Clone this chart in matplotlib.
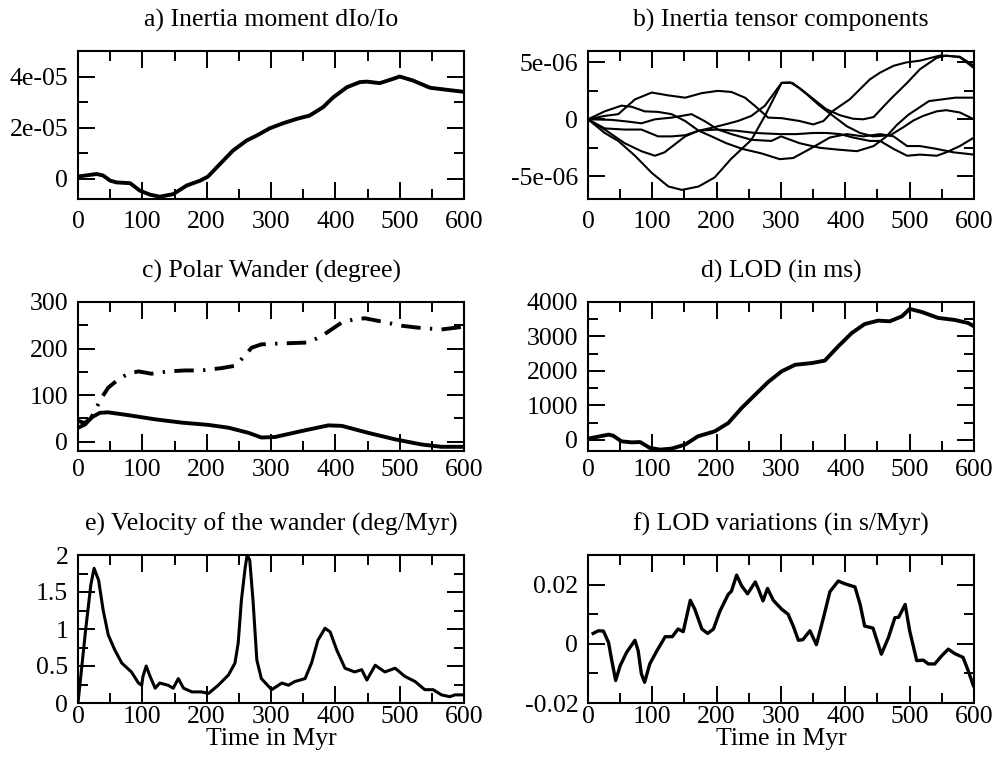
import matplotlib
matplotlib.use("Agg")
import matplotlib.pyplot as plt
from matplotlib.ticker import MultipleLocator

plt.rcParams['font.family'] = ['Liberation Serif', 'DejaVu Serif']
plt.rcParams['font.size'] = 18.5

# ---------------- data ----------------
# a) Inertia moment dIo/Io
a_t = [0, 29, 39, 50, 60, 81, 96, 112, 127, 148, 169, 190, 202, 226, 241, 262, 278, 298, 319, 340,
       360, 381, 397, 418, 438, 449, 469, 490, 500, 521, 547, 573, 600]
a_v = [0.8e-6, 1.8e-6, 1.2e-6, -0.8e-6, -1.5e-6, -1.8e-6, -4.7e-6, -6.3e-6, -7.1e-6, -6.1e-6, -2.7e-6,
       -0.8e-6, 0.8e-6, 7.1e-6, 11.0e-6, 14.9e-6, 16.9e-6, 19.7e-6, 21.7e-6, 23.4e-6, 24.7e-6, 28.0e-6,
       31.9e-6, 35.8e-6, 37.8e-6, 38.0e-6, 37.4e-6, 39.1e-6, 40.0e-6, 38.4e-6, 35.6e-6, 34.8e-6, 34.0e-6]

# b) Inertia tensor components (six curves)
b1_t = [0, 26, 47, 73, 99, 125, 151, 177, 202, 223, 244, 259, 280, 301, 329, 350, 366, 381, 407, 438,
        454, 475, 495, 516, 547, 578, 600]
b1_v = [0, 0.3e-6, 0.45e-6, 1.75e-6, 2.35e-6, 2.1e-6, 1.9e-6, 2.3e-6, 2.5e-6, 2.4e-6, 1.9e-6, 1.2e-6,
        0.15e-6, 0.1e-6, -0.15e-6, -0.45e-6, -0.15e-6, 0.75e-6, 1.76e-6, 3.5e-6, 4.1e-6, 4.7e-6, 5.0e-6,
        5.15e-6, 5.6e-6, 5.5e-6, 4.7e-6]
b2_t = [0, 26, 57, 83, 109, 130, 151, 172, 192, 213, 233, 254, 275, 301, 314, 330, 350, 370, 392, 412,
        428, 444, 470, 496, 516, 542, 557, 578, 600]
b2_v = [0, -0.8e-6, -0.9e-6, -0.9e-6, -1.5e-6, -1.5e-6, -1.4e-6, -1.0e-6, -0.75e-6, -0.45e-6, -0.15e-6,
        0.3e-6, 1.2e-6, 3.2e-6, 3.25e-6, 2.7e-6, 1.8e-6, 0.9e-6, 0.35e-6, 0.05e-6, 0.0, 0.2e-6, 1.76e-6,
        3.2e-6, 4.4e-6, 5.4e-6, 5.6e-6, 5.45e-6, 4.5e-6]
b3_t = [0, 26, 47, 73, 99, 125, 146, 172, 197, 222, 254, 275, 301, 318, 340, 360, 381, 402, 423, 443,
        470, 490, 506, 521, 542, 557, 578, 600]
b3_v = [0, -1.2e-6, -1.9e-6, -3.2e-6, -4.7e-6, -5.9e-6, -6.2e-6, -5.9e-6, -5.1e-6, -3.5e-6, -1.8e-6,
        0.3e-6, 3.2e-6, 3.2e-6, 2.2e-6, 1.2e-6, 0.3e-6, -0.6e-6, -1.2e-6, -1.5e-6, -1.4e-6, -0.7e-6,
        -0.1e-6, 0.3e-6, 0.7e-6, 0.8e-6, 0.6e-6, 0.0]
b4_t = [0, 37, 62, 83, 104, 130, 161, 181, 202, 223, 254, 285, 300, 329, 360, 386, 418, 444, 464, 480,
        498, 530, 571, 600]
b4_v = [0, -0.05e-6, -0.2e-6, -0.35e-6, 0.0, 0.15e-6, 0.45e-6, -0.15e-6, -0.9e-6, -1.3e-6, -1.8e-6,
        -1.9e-6, -1.5e-6, -2.1e-6, -2.5e-6, -2.65e-6, -2.8e-6, -2.35e-6, -1.5e-6, -0.5e-6, 0.4e-6, 1.6e-6,
        1.9e-6, 1.9e-6]
b5_t = [0, 26, 57, 83, 104, 119, 135, 151, 172, 200, 230, 260, 298, 324, 350, 371, 392, 412, 438, 454,
        475, 496, 516, 542, 557, 578, 600]
b5_v = [0, -0.9e-6, -2.1e-6, -2.8e-6, -3.2e-6, -2.9e-6, -2.2e-6, -1.5e-6, -1.0e-6, -0.9e-6, -1.0e-6,
        -1.2e-6, -1.3e-6, -1.3e-6, -1.2e-6, -1.2e-6, -1.3e-6, -1.6e-6, -1.9e-6, -1.9e-6, -2.6e-6, -3.2e-6,
        -3.1e-6, -3.2e-6, -2.9e-6, -2.35e-6, -1.6e-6]
b6_t = [0, 26, 52, 68, 88, 109, 130, 151, 172, 192, 215, 240, 270, 298, 319, 345, 376, 402, 428, 454,
        475, 496, 516, 542, 568, 600]
b6_v = [0, 0.7e-6, 1.2e-6, 1.1e-6, 0.7e-6, 0.65e-6, 0.45e-6, -0.15e-6, -1.0e-6, -1.5e-6, -2.1e-6, -2.6e-6,
        -3.0e-6, -3.5e-6, -3.4e-6, -2.6e-6, -1.6e-6, -1.3e-6, -1.5e-6, -1.3e-6, -1.5e-6, -2.35e-6, -2.35e-6,
        -2.6e-6, -2.9e-6, -3.1e-6]

# c) Polar wander (degree): solid and dash-dot curves
c1_t = [0, 11, 21, 34, 47, 78, 120, 161, 203, 234, 265, 285, 306, 348, 389, 410, 451, 493, 534, 565, 600]
c1_v = [30, 37, 52, 62, 63, 57, 48, 41, 36, 30, 19, 9, 10, 23, 35, 34, 19, 5, -6, -11, -11]
c2_t = [0, 10, 20, 26, 37, 47, 63, 78, 94, 114, 140, 166, 192, 223, 244, 254, 270, 285, 317, 358, 379,
        394, 410, 430, 446, 472, 503, 534, 565, 600]
c2_v = [45, 40, 50, 66, 95, 116, 134, 146, 151, 146, 151, 153, 153, 158, 163, 177, 202, 209, 211, 213,
        227, 241, 256, 263, 265, 258, 249, 244, 241, 247]

# d) LOD (in ms)
d_t = [0, 32, 39, 52, 68, 81, 96, 112, 130, 151, 171, 197, 218, 239, 260, 280, 301, 322, 348, 368, 389,
       410, 430, 451, 469, 488, 500, 519, 544, 570, 591, 600]
d_v = [38, 155, 125, -40, -70, -60, -230, -280, -250, -135, 107, 250, 490, 930, 1315, 1680, 1990, 2180,
       2230, 2300, 2715, 3100, 3360, 3460, 3440, 3585, 3800, 3710, 3540, 3480, 3390, 3295]

# e) Velocity of the wander (deg/Myr)
e_t = [0, 12, 20, 25, 32, 39, 47, 57, 68, 83, 94, 99, 101, 106, 112, 120, 127, 140, 148, 156, 164, 177,
       192, 203, 218, 234, 244, 249, 254, 260, 263, 267, 272, 278, 285, 301, 317, 327, 337, 353, 363, 373,
       384, 392, 402, 415, 430, 441, 449, 462, 477, 493, 508, 524, 539, 552, 565, 578, 586, 600]
e_v = [0.0, 1.0, 1.6, 1.82, 1.66, 1.26, 0.92, 0.72, 0.54, 0.42, 0.27, 0.24, 0.36, 0.50, 0.36, 0.20,
       0.27, 0.24, 0.20, 0.33, 0.20, 0.15, 0.15, 0.13, 0.24, 0.38, 0.54, 0.81, 1.39, 1.84, 2.0, 1.93, 1.39,
       0.58, 0.33, 0.18, 0.27, 0.24, 0.29, 0.33, 0.54, 0.85, 1.01, 0.96, 0.72, 0.47, 0.42, 0.45, 0.31, 0.51,
       0.42, 0.47, 0.36, 0.29, 0.18, 0.18, 0.11, 0.085, 0.11, 0.11]

# f) LOD variations (in s/Myr)
f_t = [8, 16, 24, 32, 37, 43, 50, 60, 73, 78, 83, 88, 96, 107, 120, 131, 140, 148, 159, 166, 177, 186,
       195, 205, 218, 223, 231, 239, 248, 260, 265, 272, 279, 288, 301, 311, 319, 327, 334, 345, 355, 366,
       376, 389, 399, 415, 423, 430, 443, 456, 467, 477, 483, 493, 500, 511, 521, 529, 539, 550, 560, 570,
       583, 591, 599]
f_v = [0.0035, 0.0044, 0.0043, 0.0004, -0.0057, -0.0124, -0.0074, -0.0029, 0.0012, -0.0024, -0.0102,
       -0.013, -0.0068, -0.0024, 0.0024, 0.0024, 0.005, 0.0041, 0.0147, 0.0117, 0.005, 0.0035, 0.005, 0.011,
       0.0167, 0.0178, 0.0232, 0.0195, 0.0169, 0.0209, 0.0184, 0.0145, 0.0187, 0.0147, 0.0117, 0.010, 0.006,
       0.0012, 0.0014, 0.0044, -0.0003, 0.0088, 0.0176, 0.0212, 0.0203, 0.0192, 0.0133, 0.006, 0.0053,
       -0.0035, 0.0021, 0.0088, 0.009, 0.0133, 0.0044, -0.0057, -0.0055, -0.0068, -0.0068, -0.004, -0.0018,
       -0.0033, -0.0046, -0.0091, -0.0141]

titles = ["a) Inertia moment dIo/Io", "b) Inertia tensor components", "c) Polar Wander (degree)",
          "d) LOD (in ms)", "e) Velocity of the wander (deg/Myr)", "f) LOD variations (in s/Myr)"]
xlabel = "Time in Myr"
x_ticks = [0, 100, 200, 300, 400, 500, 600]

a_yticks = [0, 2e-05, 4e-05]
a_ylabels = ["0", "2e-05", "4e-05"]
b_yticks = [-5e-06, 0, 5e-06]
b_ylabels = ["-5e-06", "0", "5e-06"]
c_yticks = [0, 100, 200, 300]
d_yticks = [0, 1000, 2000, 3000, 4000]
e_yticks = [0, 0.5, 1, 1.5, 2]
e_ylabels = ["0", "0.5", "1", "1.5", "2"]
f_yticks = [-0.02, 0, 0.02]
f_ylabels = ["-0.02", "0", "0.02"]

# ---------------- figure ----------------
W, H = 995, 764
fig = plt.figure(figsize=(W / 100, H / 100), dpi=100)


def make_ax(l, r, t, b):
    return fig.add_axes([l / W, 1 - b / H, (r - l) / W, (b - t) / H])


axa = make_ax(78, 464, 51, 199)
axb = make_ax(588, 974, 51, 199)
axc = make_ax(78, 464, 302, 451)
axd = make_ax(588, 974, 302, 451)
axe = make_ax(78, 464, 555, 703)
axf = make_ax(588, 974, 555, 703)

axa.plot(a_t, a_v, color='black', lw=2.8, solid_joinstyle='round')
for tt, vv in [(b1_t, b1_v), (b2_t, b2_v), (b3_t, b3_v), (b4_t, b4_v), (b5_t, b5_v), (b6_t, b6_v)]:
    axb.plot(tt, vv, color='black', lw=1.5, solid_joinstyle='round')
axc.plot(c1_t, c1_v, color='black', lw=2.8, solid_joinstyle='round')
axc.plot(c2_t, c2_v, color='black', lw=2.8, linestyle=(0, (5.0, 2.4, 0.6, 2.4)))
axd.plot(d_t, d_v, color='black', lw=2.8, solid_joinstyle='round')
axe.plot(e_t, e_v, color='black', lw=2.2, solid_joinstyle='round')
axf.plot(f_t, f_v, color='black', lw=2.4, solid_joinstyle='round')

axa.set_ylim(-8e-06, 5e-05)
axb.set_ylim(-7e-06, 6e-06)
axc.set_ylim(-20, 300)
axd.set_ylim(-320, 4000)
axe.set_ylim(0, 2)
axf.set_ylim(-0.02, 0.03)

axa.set_yticks(a_yticks, a_ylabels)
axb.set_yticks(b_yticks, b_ylabels)
axc.set_yticks(c_yticks, [str(v) for v in c_yticks])
axd.set_yticks(d_yticks, [str(v) for v in d_yticks])
axe.set_yticks(e_yticks, e_ylabels)
axf.set_yticks(f_yticks, f_ylabels)

minors = [1e-05, 2.5e-06, 50, 500, 0.25, 0.01]
for ax, title, mn in zip([axa, axb, axc, axd, axe, axf], titles, minors):
    ax.set_xlim(0, 600)
    ax.set_xticks(x_ticks, [str(v) for v in x_ticks])
    ax.xaxis.set_minor_locator(MultipleLocator(50))
    ax.yaxis.set_minor_locator(MultipleLocator(mn))
    ax.tick_params(which='both', direction='in', top=True, right=True, width=1.4, labelsize=18.5)
    ax.tick_params(which='major', length=12)
    ax.tick_params(which='minor', length=7)
    ax.tick_params(axis='y', pad=7)
    for s in ax.spines.values():
        s.set_linewidth(1.5)
    ax.set_title(title, fontsize=18.5, pad=17.5)

for ax in [axa, axb]:
    ax.tick_params(axis='x', pad=9)
for ax in [axc, axd]:
    ax.tick_params(axis='x', pad=6)
for ax in [axe, axf]:
    ax.tick_params(axis='x', pad=2)
    ax.set_xlabel(xlabel, fontsize=18.5, labelpad=0)

fig.savefig("out.png", dpi=100)
